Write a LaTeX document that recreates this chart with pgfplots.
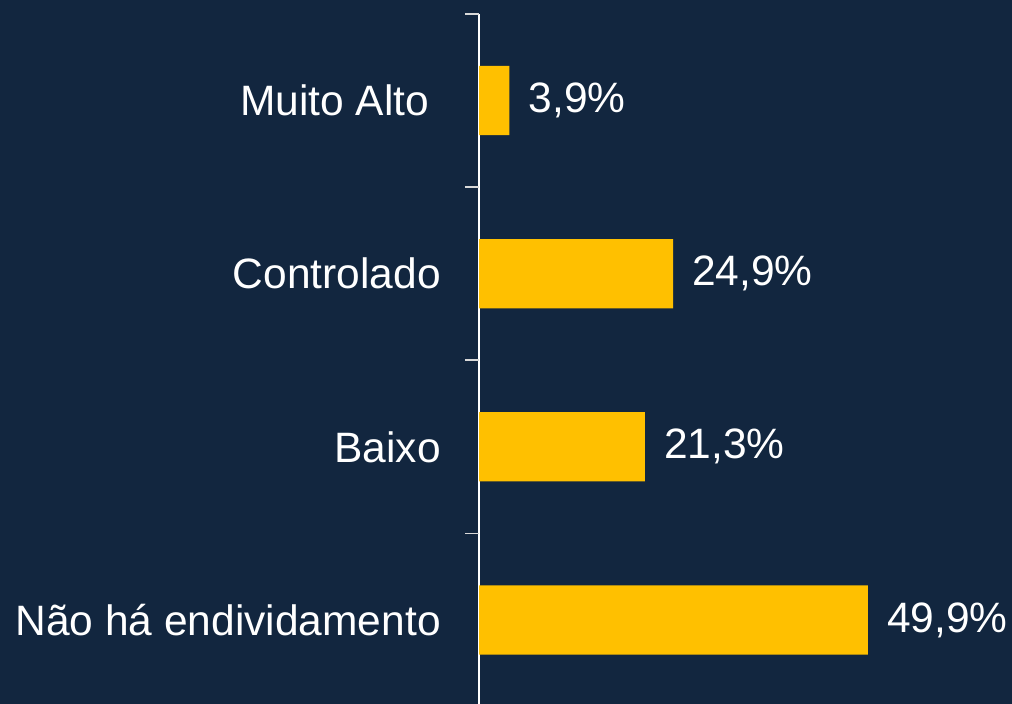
\documentclass[border=0pt]{standalone}
\usepackage{pgfplots}
\pgfplotsset{compat=1.18}
\usepackage{fontspec}
\setmainfont{Liberation Sans}
\definecolor{bg}{HTML}{12263F}
\definecolor{baryel}{HTML}{FFC000}
\definecolor{tickgray}{HTML}{D9D9D9}
\begin{document}
\begin{tikzpicture}[x=1pt,y=1pt]
\fill[bg] (0,0) rectangle (1012,704);
\useasboundingbox (0,0) rectangle (1012,704);
\begin{axis}[
  at={(479pt,-2.5pt)}, anchor=south west,
  scale only axis,
  width=533pt, height=692.5pt,
  xmin=0, xmax=68.4,
  ymin=-0.5, ymax=3.5,
  axis x line=none,
  axis y line*=left,
  y axis line style={white, line width=1.5pt},
  ytick={0,1,2,3},
  yticklabels={Não há endividamento, Baixo, Controlado, {Muito Alto\kern11.8pt\relax}},
  major tick length=0pt,
  extra y ticks={0.5,1.5,2.5,3.5},
  extra y tick labels={},
  extra y tick style={major tick length=14pt, tick align=outside, tick style={tickgray, line width=1.5pt}},
  yticklabel style={font=\fontsize{42.5}{50}\selectfont, text=white, anchor=east, inner sep=0pt, xshift=-38pt},
  xbar, bar width=0.4,
  /pgf/number format/assume math mode=true,
  nodes near coords={\pgfmathprintnumber[fixed, fixed zerofill, precision=1, use comma]{\pgfplotspointmeta}\%},
  nodes near coords style={font=\fontsize{42.5}{50}\selectfont, text=white, anchor=west, inner sep=0pt, xshift=19pt},
  clip=false,
]
\addplot[fill=baryel, draw=none] coordinates {(49.9,0) (21.3,1) (24.9,2) (3.9,3)};
\end{axis}
\end{tikzpicture}
\end{document}
